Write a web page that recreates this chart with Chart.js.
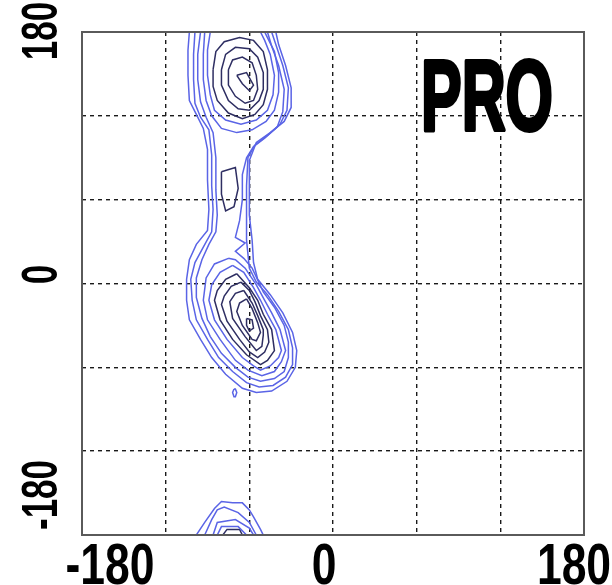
<!DOCTYPE html>
<html>
<head>
<meta charset="utf-8">
<script src="https://cdn.jsdelivr.net/npm/chart.js@4.4.1/dist/chart.umd.min.js"></script>
<style>
  html, body { margin: 0; padding: 0; background: #fff; }
  #wrap { width: 612px; height: 585px; }
</style>
</head>
<body>
<div id="wrap"><canvas id="rama"></canvas></div>
<script>
// phi/psi contour lines, [phi, psi] in degrees
const tickValues = [-180, 0, 180];
const xTickLabels = ['-180', '0', '180'];
const yTickLabels = ['180', '0', '-180'];
const yTickValues = [180, 0, -180];
const plotTitle = 'PRO';

// outer levels: one line runs round both regions through the neck
const contourC1 = [[-103,180],[-104,167],[-104,149],[-103,131],[-98,121],[-93,111],[-90,96],[-90,74],[-89,53],[-90,38],
  [-98,28],[-103,17],[-105,3],[-105,-12],[-103,-26],[-95,-40],[-87,-53],[-77,-65],[-65,-75],[-55,-78],[-44,-77],
  [-33,-70],[-27,-60],[-26,-48],[-29,-35],[-36,-21],[-45,-8],[-54,3],[-57,15],[-58,31],[-60,49],[-60,67],[-60,88],
  [-55,101],[-45,108],[-35,116],[-30,126],[-30,140],[-34,156],[-39,171],[-41,180]];
const contourC2 = [[-99,180],[-100,164],[-100,146],[-99,129],[-95,119],[-89,110],[-87,92],[-87,70],[-86,53],[-87,37],
  [-93,26],[-99,15],[-102,3],[-101,-12],[-98,-26],[-90,-40],[-82,-53],[-72,-63],[-62,-71],[-53,-74],[-43,-73],
  [-34,-67],[-29,-58],[-29,-46],[-32,-33],[-39,-20],[-47,-8],[-55,1],[-60,11],[-62,31],[-62,49],[-62,70],[-61,90],
  [-56,99],[-47,106],[-38,114],[-33,124],[-32,140],[-36,156],[-41,171],[-44,180]];
const contourC3 = [[-95,180],[-97,164],[-97,146],[-95,130],[-91,119],[-86,108],[-84,90],[-84,67],[-83,49],[-84,37],
  [-89,28],[-94,17],[-98,4],[-98,-10],[-94,-25],[-88,-38],[-80,-50],[-70,-60],[-61,-67],[-52,-70],[-42,-68],
  [-35,-63],[-32,-53],[-32,-42],[-35,-30],[-42,-17],[-50,-6],[-58,11],[-64,18],[-70,23],[-63,29],[-70,33],
  [-67,45],[-65,60],[-65,78],[-62,90],[-57,98],[-49,104],[-40,112],[-36,123],[-35,139],[-39,156],[-44,170],[-47,180]];

// upper (beta / PPII) region
const contourU4 = [[-92,180],[-93,164],[-93,146],[-91,131],[-87,120],[-80,111],[-69,108],[-58,110],[-48,116],
  [-42,124],[-39,137],[-39,151],[-42,166],[-47,176],[-49,180]];
const contourN4 = [[-80,80],[-70,83],[-68,68],[-71,55],[-77,52],[-80,64],[-80,80]];
const contourU5 = [[-88,180],[-90,167],[-90,149],[-88,135],[-85,124],[-77,117],[-66,114],[-55,117],[-47,124],
  [-43,135],[-42,149],[-45,164],[-49,174],[-52,180]];
const contourU6 = [[-86,153],[-84,166],[-78,173],[-67,176],[-57,174],[-50,166],[-47,153],[-47,139],[-50,128],
  [-56,121],[-65,118],[-75,122],[-83,131],[-86,141],[-86,153]];
const contourU7 = [[-80,153],[-77,164],[-70,169],[-60,168],[-54,162],[-50,151],[-50,139],[-53,131],[-60,124],
  [-68,125],[-75,131],[-80,142],[-80,153]];
const contourU8 = [[-75,153],[-72,160],[-65,162],[-58,158],[-55,149],[-54,139],[-57,131],[-63,129],[-70,134],
  [-75,142],[-75,153]];
const contourU9 = [[-69,149],[-62,151],[-57,142],[-60,138],[-65,143],[-69,149]];

// lower (alpha) region
const contourL4 = [[-75,18],[-85,14],[-91,4],[-93,-12],[-90,-26],[-81,-40],[-70,-55],[-61,-62],[-51,-66],[-42,-63],
  [-37,-56],[-34,-48],[-38,-33],[-44,-21],[-49,-12],[-55,-1],[-63,11],[-70,17],[-75,18]];
const contourL5 = [[-72,13],[-81,8],[-87,-1],[-89,-12],[-85,-26],[-76,-40],[-65,-53],[-57,-59],[-52,-62],[-45,-59],
  [-39,-53],[-37,-48],[-41,-33],[-47,-22],[-52,-12],[-57,-3],[-64,8],[-72,13]];
const contourL6 = [[-69,7],[-77,3],[-83,-5],[-85,-12],[-81,-26],[-72,-40],[-62,-51],[-52,-58],[-47,-55],[-42,-48],
  [-44,-33],[-50,-22],[-54,-12],[-60,-3],[-69,7]];
const contourL7 = [[-66,1],[-73,-2],[-78,-9],[-80,-15],[-76,-27],[-67,-40],[-60,-49],[-54,-53],[-49,-49],[-46,-42],
  [-47,-33],[-52,-23],[-56,-13],[-60,-5],[-66,1]];
const contourL8 = [[-64,-5],[-70,-7],[-74,-13],[-72,-25],[-63,-38],[-55,-48],[-51,-45],[-50,-37],[-50,-33],
  [-54,-23],[-58,-14],[-64,-5]];
const contourL9 = [[-62,-11],[-67,-14],[-69,-20],[-65,-30],[-58,-40],[-55,-41],[-52,-35],[-54,-28],[-58,-18],[-62,-11]];
const contourL10 = [[-62,-25],[-58,-26],[-57,-32],[-60,-34],[-62,-30],[-62,-25]];
const contourDot = [[-71,-75.5],[-70,-75.5],[-69,-78],[-70,-81],[-71,-81],[-72,-78],[-71,-75.5]];

// upper region wrapped round to psi = -180
const contourB1 = [[-98,-180],[-92,-171],[-85,-161],[-80,-156],[-72,-157],[-65,-157],[-60,-162],[-57,-167],[-52,-176],[-50,-180]];
const contourB2 = [[-92,-180],[-87,-169],[-83,-162],[-78,-160],[-68,-164],[-60,-171],[-55,-180]];
const contourB3 = [[-86,-180],[-83,-171],[-70,-169],[-60,-175],[-57,-180]];
const contourB4 = [[-83,-180],[-80,-174],[-68,-174],[-62,-180]];
const contourB5 = [[-79,-180],[-76,-176],[-67,-176],[-65,-180]];

const blue = '#5a64e6';
const dark = '#2e2e62';

const lines = [
  [contourC1, blue], [contourB1, blue], [contourDot, blue],
  [contourC2, blue], [contourB2, blue],
  [contourC3, blue], [contourB3, blue],
  [contourU4, blue], [contourN4, dark], [contourL4, blue], [contourB4, blue],
  [contourU5, blue], [contourL5, blue], [contourB5, dark],
  [contourU6, dark], [contourL6, dark],
  [contourU7, dark], [contourL7, dark],
  [contourU8, dark], [contourL8, dark],
  [contourU9, dark], [contourL9, dark], [contourL10, dark]
];

const toPts = arr => arr.map(([x, y]) => ({ x: x, y: y }));

const labelsPlugin = {
  id: 'ramaLabels',
  afterDraw(chart) {
    const { ctx, chartArea } = chart;
    const xs = chart.scales.x, ys = chart.scales.y;
    ctx.save();
    // frame
    ctx.strokeStyle = '#5a5a5a';
    ctx.lineWidth = 2;
    ctx.strokeRect(chartArea.left, chartArea.top, chartArea.right - chartArea.left, chartArea.bottom - chartArea.top);

    ctx.fillStyle = '#000';
    ctx.strokeStyle = '#000';
    ctx.textAlign = 'center';
    ctx.textBaseline = 'alphabetic';
    ctx.font = 'bold 57px "Liberation Sans", Arial, sans-serif';
    const xOff = [28, -9, -10];
    tickValues.forEach((v, i) => {
      ctx.save();
      ctx.translate(xs.getPixelForValue(v) + xOff[i], 584);
      ctx.scale(0.78, 1);
      ctx.fillText(xTickLabels[i], 0, 0);
      ctx.restore();
    });
    ctx.font = 'bold 50px "Liberation Sans", Arial, sans-serif';
    const yOff = [-1, -9, -40];
    yTickValues.forEach((v, i) => {
      ctx.save();
      ctx.translate(57, ys.getPixelForValue(v) + yOff[i]);
      ctx.rotate(-Math.PI / 2);
      ctx.scale(0.7, 1);
      ctx.fillText(yTickLabels[i], 0, 0);
      ctx.restore();
    });

    // residue name
    ctx.font = 'bold 100px "Liberation Sans", Arial, sans-serif';
    const w = ctx.measureText(plotTitle).width;
    ctx.save();
    ctx.translate(487, 130);
    ctx.scale(132 / w, 1);
    ctx.lineWidth = 4;
    ctx.lineJoin = 'round';
    ctx.strokeText(plotTitle, 0, 0);
    ctx.fillText(plotTitle, 0, 0);
    ctx.restore();
    ctx.restore();
  }
};

const gridAxis = {
  type: 'linear', min: -180, max: 180, z: 1,
  ticks: { display: false, stepSize: 60 },
  grid: { color: '#1a1a1a', lineWidth: 1.4, drawTicks: false },
  border: { display: false, dash: [4, 4] }
};

new Chart(document.getElementById('rama'), {
  type: 'scatter',
  data: {
    datasets: lines.map(([arr, col]) => ({
      data: toPts(arr),
      showLine: true,
      borderColor: col,
      borderWidth: 1.5,
      pointRadius: 0,
      fill: false,
      tension: 0
    }))
  },
  options: {
    responsive: true,
    maintainAspectRatio: false,
    animation: false,
    layout: { padding: { left: 82, right: 28, top: 32, bottom: 50 } },
    plugins: { legend: { display: false }, tooltip: { enabled: false } },
    scales: { x: gridAxis, y: gridAxis }
  },
  plugins: [labelsPlugin]
});
</script>
</body>
</html>
